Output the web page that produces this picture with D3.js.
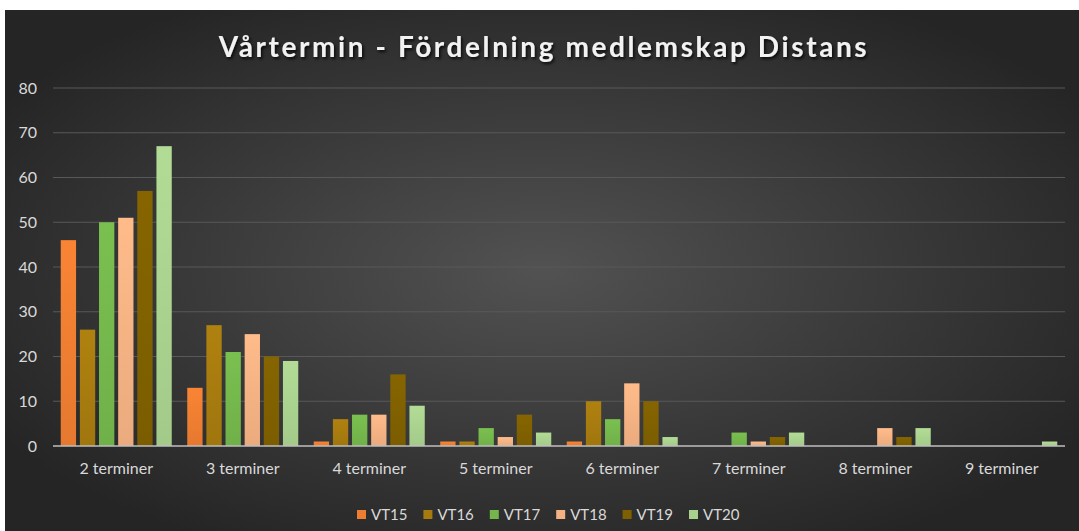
<!DOCTYPE html>
<html lang="sv">
<head>
<meta charset="UTF-8">
<title>Vårtermin - Fördelning medlemskap Distans</title>
<script src="https://d3js.org/d3.v7.min.js"></script>
<style>
  body { margin: 0; background: #fff; }
  svg { display: block; }
  text { font-family: Lato, "Open Sans", sans-serif; }
</style>
</head>
<body>
<svg width="1079" height="531"></svg>
<script>
const categories = ["2 terminer", "3 terminer", "4 terminer", "5 terminer",
                    "6 terminer", "7 terminer", "8 terminer", "9 terminer"];
const seriesNames = ["VT15", "VT16", "VT17", "VT18", "VT19", "VT20"];
const VT15 = [46, 13, 1, 1, 1, 0, 0, 0];
const VT16 = [26, 27, 6, 1, 10, 0, 0, 0];
const VT17 = [50, 21, 7, 4, 6, 3, 0, 0];
const VT18 = [51, 25, 7, 2, 14, 1, 4, 0];
const VT19 = [57, 20, 16, 7, 10, 2, 2, 0];
const VT20 = [67, 19, 9, 3, 2, 3, 4, 1];
const seriesValues = [VT15, VT16, VT17, VT18, VT19, VT20];
const colors = ["#ED7D31", "#A67A0E", "#74B64C", "#F4B183", "#7F6000", "#A9D18E"];
const yTicks = [0, 10, 20, 30, 40, 50, 60, 70, 80];

const svg = d3.select("svg");
const defs = svg.append("defs");

// background gradient
const bg = defs.append("radialGradient").attr("id", "bg")
  .attr("cx", "50%").attr("cy", "50%").attr("r", "60%");
bg.append("stop").attr("offset", "0%").attr("stop-color", "#525252");
bg.append("stop").attr("offset", "100%").attr("stop-color", "#252525");

colors.forEach(function (c, i) {
  const g = defs.append("linearGradient").attr("id", "bar" + i)
    .attr("x1", 0).attr("y1", 0).attr("x2", 0).attr("y2", 1);
  g.append("stop").attr("offset", "0%").attr("stop-color", d3.color(c).brighter(0.15));
  g.append("stop").attr("offset", "100%").attr("stop-color", d3.color(c).darker(0.1));
});

const shadow = defs.append("filter").attr("id", "shadow")
  .attr("x", "-5%").attr("y", "-20%").attr("width", "110%").attr("height", "150%");
shadow.append("feDropShadow").attr("dx", 1.5).attr("dy", 2).attr("stdDeviation", 1.5)
  .attr("flood-color", "#000").attr("flood-opacity", 0.8);

svg.append("rect").attr("x", 5).attr("y", 10).attr("width", 1074).attr("height", 521)
  .attr("fill", "url(#bg)");

const margin = { left: 53, right: 1065, top: 88, bottom: 446 };

const x0 = d3.scaleBand().domain(categories)
  .range([margin.left, margin.right]).paddingInner(0.1225).paddingOuter(0.06125);
const x1 = d3.scaleBand().domain(seriesNames)
  .range([0, x0.bandwidth()]).paddingInner(0.2);
const y = d3.scaleLinear().domain([0, 80]).range([margin.bottom, margin.top]);

// gridlines
svg.append("g").selectAll("line").data(yTicks.filter(d => d > 0)).join("line")
  .attr("x1", margin.left).attr("x2", margin.right)
  .attr("y1", d => y(d)).attr("y2", d => y(d))
  .attr("stroke", "#585858").attr("stroke-width", 1);

// y axis labels
const yAxis = svg.append("g").attr("transform", `translate(${margin.left - 16},0)`)
  .call(d3.axisLeft(y).tickValues(yTicks).tickSize(0).tickPadding(0));
yAxis.select(".domain").remove();
yAxis.selectAll("text").attr("fill", "#d9d9d9").attr("font-size", 16);

// bars
const groups = svg.append("g").selectAll("g").data(categories).join("g")
  .attr("transform", d => `translate(${x0(d)},0)`);
groups.selectAll("rect")
  .data((c, ci) => seriesNames.map((s, si) => ({ s: s, si: si, v: seriesValues[si][ci] })))
  .join("rect")
  .filter(d => d.v > 0)
  .attr("x", d => x1(d.s))
  .attr("width", x1.bandwidth())
  .attr("y", d => y(d.v))
  .attr("height", d => y(0) - y(d.v))
  .attr("fill", d => `url(#bar${d.si})`);

// x axis
const xAxis = svg.append("g").attr("transform", `translate(0,${margin.bottom})`)
  .call(d3.axisBottom(x0).tickSize(0).tickPadding(17));
xAxis.select(".domain").attr("stroke", "#bfbfbf").attr("stroke-width", 1.5)
  .attr("d", `M${margin.left},0H${margin.right}`);
xAxis.selectAll("text").attr("fill", "#d9d9d9").attr("font-size", 16);

// title
svg.append("text").attr("x", 544).attr("y", 57).attr("text-anchor", "middle")
  .attr("font-size", 28).attr("font-weight", "bold").attr("letter-spacing", 2.6)
  .attr("fill", "#f2f2f2").attr("filter", "url(#shadow)")
  .text("Vårtermin - Fördelning medlemskap Distans");

// legend
const legend = svg.append("g").attr("transform", "translate(357,515)");
const items = legend.selectAll("g").data(seriesNames).join("g")
  .attr("transform", (d, i) => `translate(${i * 66.4},0)`);
items.append("rect").attr("x", 0).attr("y", -5).attr("width", 9).attr("height", 9)
  .attr("fill", (d, i) => colors[i]);
items.append("text").attr("x", 14).attr("y", 5).attr("fill", "#d9d9d9")
  .attr("font-size", 15).text(d => d);
</script>
</body>
</html>
